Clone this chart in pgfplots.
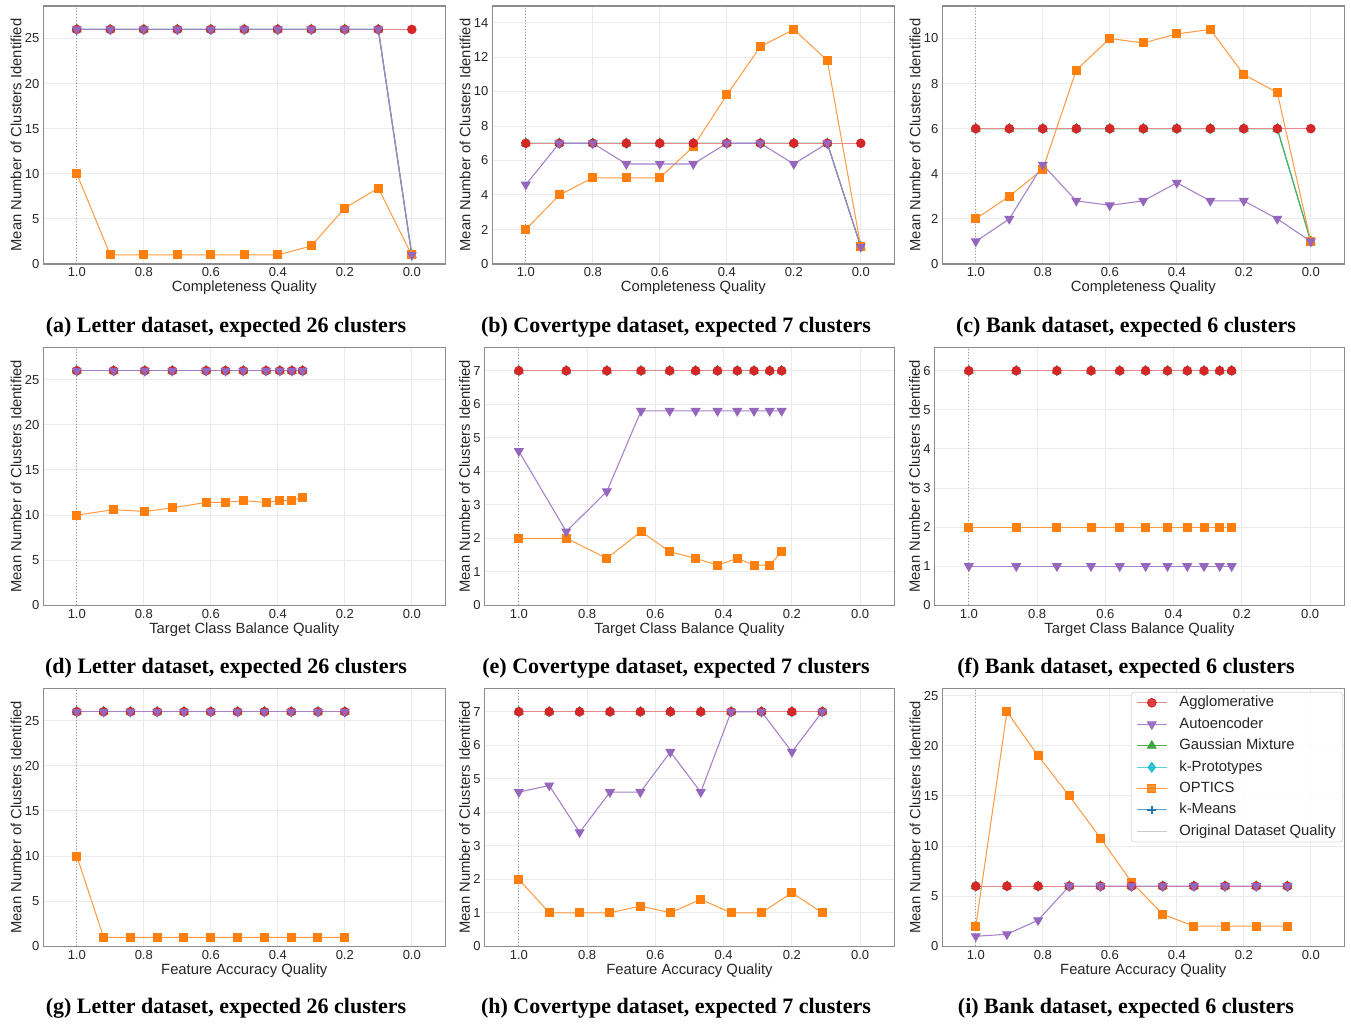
\documentclass[border=0pt]{standalone}
\usepackage{pgfplots}
\pgfplotsset{compat=1.18}
\usepackage{fontspec}
\setmainfont{Liberation Serif}
\setsansfont{Liberation Sans}
\definecolor{cAgg}{HTML}{D62728}
\definecolor{cAuto}{HTML}{9467BD}
\definecolor{cGmm}{HTML}{2CA02C}
\definecolor{cKp}{HTML}{17BECF}
\definecolor{cOpt}{HTML}{FF7F0E}
\definecolor{cKm}{HTML}{1F77B4}
\definecolor{gridc}{HTML}{EBEBEB}
\definecolor{framec}{HTML}{8C8C8C}
\definecolor{textc}{HTML}{262626}
\newcommand\tickfont{\sffamily\fontsize{6.5}{7.8}\selectfont}
\newcommand\labfont{\sffamily\fontsize{7.4}{8.9}\selectfont}
\newcommand\capfont{\rmfamily\bfseries\fontsize{11}{13}\selectfont}
\pgfplotsset{
  panel/.style={
    scale only axis, height=129pt,
    xmin=-0.1, xmax=1.1, x dir=reverse, ymin=0,
    xtick={0,0.2,0.4,0.6,0.8,1}, xticklabels={0.0,0.2,0.4,0.6,0.8,1.0},
    grid=major, major grid style={draw=gridc, line width=0.5pt},
    axis line style={draw=framec, line width=0.6pt},
    major tick length=0pt, tick style={draw=none},
    tick label style={font=\tickfont, text=textc},
    /pgf/number format/assume math mode=true,
    xticklabel style={anchor=base, yshift=-6.5pt},
    yticklabel style={anchor=east, inner sep=0pt, xshift=-1.8pt},
    label style={font=\labfont, text=textc},
    xlabel style={at={(axis description cs:0.5,0)}, anchor=base, yshift=-14pt},
    ylabel={Mean Number of Clusters Identified},
  },
  two/.style={width=201pt, ylabel style={at={(axis description cs:-0.068,0.5)}, anchor=center}},
  one/.style={width=204.8pt, ylabel style={at={(axis description cs:-0.049,0.5)}, anchor=center}},
  sAgg/.style={color=cAgg!55!white, line width=0.55pt, mark=*, mark size=2.1pt,
    mark options={solid, fill=cAgg, draw=cAgg}},
  sAuto/.style={color=cAuto!82!white, line width=0.55pt, mark=triangle*, mark size=2.4pt,
    mark options={solid, rotate=180, fill=cAuto, draw=cAuto}},
  sGmm/.style={color=cGmm!85!white, line width=0.5pt, mark=triangle*, mark size=2.4pt,
    mark options={solid, fill=cGmm, draw=cGmm}},
  sKp/.style={color=cKp!70!white, line width=0.5pt, mark=diamond*, mark size=2.4pt,
    mark options={solid, fill=cKp, draw=cKp}},
  sOpt/.style={color=cOpt!80!white, line width=0.5pt, mark=square*, mark size=2pt,
    mark options={solid, fill=cOpt, draw=cOpt}},
  sKm/.style={color=cKm!70!white, line width=0.5pt, mark=+, mark size=2.2pt,
    mark options={solid, line width=1.2pt, draw=cKm}},
}
\newcommand{\three}[1]{%
  \addplot[sKm, forget plot] coordinates {#1};
  \addplot[sKp, forget plot] coordinates {#1};
  \addplot[sGmm, forget plot] coordinates {#1};}
\newcommand{\vref}[1]{\addplot[black!40, densely dotted, line width=0.5pt, forget plot] coordinates {(1,0) (1,#1)};}
\begin{document}
\begin{tikzpicture}
\path[use as bounding box] (0,0) rectangle (675.5pt,513pt);
% ---------------- row 1 ----------------
\begin{axis}[panel, two, at={(222.65pt,510pt)}, anchor=north east, ymax=28.6,
  ytick={0,5,10,15,20,25}, xlabel={Completeness Quality}]
\vref{28.6}
\three{(1,26)(0.9,26)(0.8,26)(0.7,26)(0.6,26)(0.5,26)(0.4,26)(0.3,26)(0.2,26)(0.1,26)(0,1)}
\addplot[sOpt, forget plot] coordinates {(1,10)(0.9,1)(0.8,1)(0.7,1)(0.6,1)(0.5,1)(0.4,1)(0.3,2)(0.2,6.2)(0.1,8.4)(0,1)};
\addplot[sAgg, forget plot] coordinates {(1,26)(0.9,26)(0.8,26)(0.7,26)(0.6,26)(0.5,26)(0.4,26)(0.3,26)(0.2,26)(0.1,26)(0,26)};
\addplot[sAuto, forget plot] coordinates {(1,26)(0.9,26)(0.8,26)(0.7,26)(0.6,26)(0.5,26)(0.4,26)(0.3,26)(0.2,26)(0.1,26)(0,1)};
\end{axis}
\begin{axis}[panel, two, at={(447.15pt,510pt)}, anchor=north east, ymax=14.96,
  ytick={0,2,4,6,8,10,12,14}, xlabel={Completeness Quality}]
\vref{14.96}
\three{(1,7)(0.9,7)(0.8,7)(0.7,7)(0.6,7)(0.5,7)(0.4,7)(0.3,7)(0.2,7)(0.1,7)(0,1)}
\addplot[sOpt, forget plot] coordinates {(1,2)(0.9,4)(0.8,5)(0.7,5)(0.6,5)(0.5,6.8)(0.4,9.8)(0.3,12.6)(0.2,13.6)(0.1,11.8)(0,1)};
\addplot[sAgg, forget plot] coordinates {(1,7)(0.9,7)(0.8,7)(0.7,7)(0.6,7)(0.5,7)(0.4,7)(0.3,7)(0.2,7)(0.1,7)(0,7)};
\addplot[sAuto, forget plot] coordinates {(1,4.6)(0.9,7)(0.8,7)(0.7,5.8)(0.6,5.8)(0.5,5.8)(0.4,7)(0.3,7)(0.2,5.8)(0.1,7)(0,1)};
\end{axis}
\begin{axis}[panel, two, at={(672.15pt,510pt)}, anchor=north east, ymax=11.44,
  ytick={0,2,4,6,8,10}, xlabel={Completeness Quality}]
\vref{11.44}
\three{(1,6)(0.9,6)(0.8,6)(0.7,6)(0.6,6)(0.5,6)(0.4,6)(0.3,6)(0.2,6)(0.1,6)(0,1)}
\addplot[sOpt, forget plot] coordinates {(1,2)(0.9,3)(0.8,4.2)(0.7,8.6)(0.6,10)(0.5,9.8)(0.4,10.2)(0.3,10.4)(0.2,8.4)(0.1,7.6)(0,1)};
\addplot[sAgg, forget plot] coordinates {(1,6)(0.9,6)(0.8,6)(0.7,6)(0.6,6)(0.5,6)(0.4,6)(0.3,6)(0.2,6)(0.1,6)(0,6)};
\addplot[sAuto, forget plot] coordinates {(1,1)(0.9,2)(0.8,4.4)(0.7,2.8)(0.6,2.6)(0.5,2.8)(0.4,3.6)(0.3,2.8)(0.2,2.8)(0.1,2)(0,1)};
\end{axis}
% ---------------- row 2 ----------------
\begin{axis}[panel, two, at={(222.65pt,339.35pt)}, anchor=north east, ymax=28.6,
  ytick={0,5,10,15,20,25}, xlabel={Target Class Balance Quality}]
\vref{28.6}
\three{(1,26)(0.890,26)(0.797,26)(0.715,26)(0.614,26)(0.556,26)(0.503,26)(0.435,26)(0.394,26)(0.358,26)(0.326,26)}
\addplot[sOpt, forget plot] coordinates {(1,10)(0.890,10.6)(0.797,10.4)(0.715,10.8)(0.614,11.4)(0.556,11.4)(0.503,11.6)(0.435,11.4)(0.394,11.6)(0.358,11.6)(0.326,12)};
\addplot[sAgg, forget plot] coordinates {(1,26)(0.890,26)(0.797,26)(0.715,26)(0.614,26)(0.556,26)(0.503,26)(0.435,26)(0.394,26)(0.358,26)(0.326,26)};
\addplot[sAuto, forget plot] coordinates {(1,26)(0.890,26)(0.797,26)(0.715,26)(0.614,26)(0.556,26)(0.503,26)(0.435,26)(0.394,26)(0.358,26)(0.326,26)};
\end{axis}
\begin{axis}[panel, one, at={(447.15pt,339.35pt)}, anchor=north east, ymax=7.7,
  ytick={0,1,2,3,4,5,6,7}, xlabel={Target Class Balance Quality}]
\vref{7.7}
\three{(1,7)(0.861,7)(0.742,7)(0.642,7)(0.558,7)(0.482,7)(0.418,7)(0.360,7)(0.311,7)(0.265,7)(0.230,7)}
\addplot[sOpt, forget plot] coordinates {(1,2)(0.861,2)(0.742,1.4)(0.642,2.2)(0.558,1.6)(0.482,1.4)(0.418,1.2)(0.360,1.4)(0.311,1.2)(0.265,1.2)(0.230,1.6)};
\addplot[sAgg, forget plot] coordinates {(1,7)(0.861,7)(0.742,7)(0.642,7)(0.558,7)(0.482,7)(0.418,7)(0.360,7)(0.311,7)(0.265,7)(0.230,7)};
\addplot[sAuto, forget plot] coordinates {(1,4.6)(0.861,2.2)(0.742,3.4)(0.642,5.8)(0.558,5.8)(0.482,5.8)(0.418,5.8)(0.360,5.8)(0.311,5.8)(0.265,5.8)(0.230,5.8)};
\end{axis}
\begin{axis}[panel, one, at={(672.15pt,339.35pt)}, anchor=north east, ymax=6.6,
  ytick={0,1,2,3,4,5,6}, xlabel={Target Class Balance Quality}]
\vref{6.6}
\three{(1,6)(0.861,6)(0.742,6)(0.642,6)(0.558,6)(0.482,6)(0.418,6)(0.360,6)(0.311,6)(0.265,6)(0.230,6)}
\addplot[sOpt, forget plot] coordinates {(1,2)(0.861,2)(0.742,2)(0.642,2)(0.558,2)(0.482,2)(0.418,2)(0.360,2)(0.311,2)(0.265,2)(0.230,2)};
\addplot[sAgg, forget plot] coordinates {(1,6)(0.861,6)(0.742,6)(0.642,6)(0.558,6)(0.482,6)(0.418,6)(0.360,6)(0.311,6)(0.265,6)(0.230,6)};
\addplot[sAuto, forget plot] coordinates {(1,1)(0.861,1)(0.742,1)(0.642,1)(0.558,1)(0.482,1)(0.418,1)(0.360,1)(0.311,1)(0.265,1)(0.230,1)};
\end{axis}
% ---------------- row 3 ----------------
\begin{axis}[panel, two, at={(222.65pt,168.85pt)}, anchor=north east, ymax=28.6,
  ytick={0,5,10,15,20,25}, xlabel={Feature Accuracy Quality}]
\vref{28.6}
\three{(1,26)(0.92,26)(0.84,26)(0.76,26)(0.68,26)(0.60,26)(0.52,26)(0.44,26)(0.36,26)(0.28,26)(0.20,26)}
\addplot[sOpt, forget plot] coordinates {(1,10)(0.92,1)(0.84,1)(0.76,1)(0.68,1)(0.60,1)(0.52,1)(0.44,1)(0.36,1)(0.28,1)(0.20,1)};
\addplot[sAgg, forget plot] coordinates {(1,26)(0.92,26)(0.84,26)(0.76,26)(0.68,26)(0.60,26)(0.52,26)(0.44,26)(0.36,26)(0.28,26)(0.20,26)};
\addplot[sAuto, forget plot] coordinates {(1,26)(0.92,26)(0.84,26)(0.76,26)(0.68,26)(0.60,26)(0.52,26)(0.44,26)(0.36,26)(0.28,26)(0.20,26)};
\end{axis}
\begin{axis}[panel, one, at={(447.15pt,168.85pt)}, anchor=north east, ymax=7.7,
  ytick={0,1,2,3,4,5,6,7}, xlabel={Feature Accuracy Quality}]
\vref{7.7}
\three{(1,7)(0.911,7)(0.822,7)(0.733,7)(0.644,7)(0.556,7)(0.467,7)(0.378,7)(0.289,7)(0.200,7)(0.111,7)}
\addplot[sOpt, forget plot] coordinates {(1,2)(0.911,1)(0.822,1)(0.733,1)(0.644,1.2)(0.556,1)(0.467,1.4)(0.378,1)(0.289,1)(0.200,1.6)(0.111,1)};
\addplot[sAgg, forget plot] coordinates {(1,7)(0.911,7)(0.822,7)(0.733,7)(0.644,7)(0.556,7)(0.467,7)(0.378,7)(0.289,7)(0.200,7)(0.111,7)};
\addplot[sAuto, forget plot] coordinates {(1,4.6)(0.911,4.8)(0.822,3.4)(0.733,4.6)(0.644,4.6)(0.556,5.8)(0.467,4.6)(0.378,7)(0.289,7)(0.200,5.8)(0.111,7)};
\end{axis}
\begin{axis}[panel, two, at={(672.15pt,168.85pt)}, anchor=north east, ymax=25.74,
  ytick={0,5,10,15,20,25}, xlabel={Feature Accuracy Quality},
  legend cell align=left,
  legend image code/.code={\draw[mark repeat=2,mark phase=2,#1] plot coordinates {(0pt,0pt)(7.5pt,0pt)(15pt,0pt)};},
  legend style={at={(1,1)}, anchor=north east, xshift=-0.6pt, yshift=-1.8pt, draw=black!15,
    rounded corners=1.5pt, fill=white, fill opacity=0.85, text opacity=1, font=\labfont,
    text=textc, inner xsep=2.5pt, inner ysep=0.8pt, row sep=1.9pt,
    nodes={inner sep=1pt},
    /tikz/every odd column/.append style={column sep=5pt}}]
\addlegendimage{sAgg}\addlegendentry{Agglomerative}
\addlegendimage{sAuto}\addlegendentry{Autoencoder}
\addlegendimage{sGmm}\addlegendentry{Gaussian Mixture}
\addlegendimage{sKp}\addlegendentry{k-Prototypes}
\addlegendimage{sOpt}\addlegendentry{OPTICS}
\addlegendimage{sKm}\addlegendentry{k-Means}
\addlegendimage{black!22, line width=0.6pt}\addlegendentry{Original Dataset Quality}
\vref{25.74}
\three{(1,6)(0.907,6)(0.814,6)(0.721,6)(0.628,6)(0.535,6)(0.442,6)(0.349,6)(0.256,6)(0.163,6)(0.070,6)}
\addplot[sOpt, forget plot] coordinates {(1,2)(0.907,23.4)(0.814,19)(0.721,15)(0.628,10.8)(0.535,6.4)(0.442,3.2)(0.349,2)(0.256,2)(0.163,2)(0.070,2)};
\addplot[sAgg, forget plot] coordinates {(1,6)(0.907,6)(0.814,6)(0.721,6)(0.628,6)(0.535,6)(0.442,6)(0.349,6)(0.256,6)(0.163,6)(0.070,6)};
\addplot[sAuto, forget plot] coordinates {(1,1)(0.907,1.2)(0.814,2.6)(0.721,6)(0.628,6)(0.535,6)(0.442,6)(0.349,6)(0.256,6)(0.163,6)(0.070,6)};
\end{axis}
% ---------------- captions ----------------
\node[anchor=base, font=\capfont] at (113pt,346.5pt) {(a) Letter dataset, expected 26 clusters};
\node[anchor=base, font=\capfont] at (338pt,346.5pt) {(b) Covertype dataset, expected 7 clusters};
\node[anchor=base, font=\capfont] at (563pt,346.5pt) {(c) Bank dataset, expected 6 clusters};
\node[anchor=base, font=\capfont] at (113pt,176pt) {(d) Letter dataset, expected 26 clusters};
\node[anchor=base, font=\capfont] at (338pt,176pt) {(e) Covertype dataset, expected 7 clusters};
\node[anchor=base, font=\capfont] at (563pt,176pt) {(f) Bank dataset, expected 6 clusters};
\node[anchor=base, font=\capfont] at (113pt,6pt) {(g) Letter dataset, expected 26 clusters};
\node[anchor=base, font=\capfont] at (338pt,6pt) {(h) Covertype dataset, expected 7 clusters};
\node[anchor=base, font=\capfont] at (563pt,6pt) {(i) Bank dataset, expected 6 clusters};
\end{tikzpicture}
\end{document}
